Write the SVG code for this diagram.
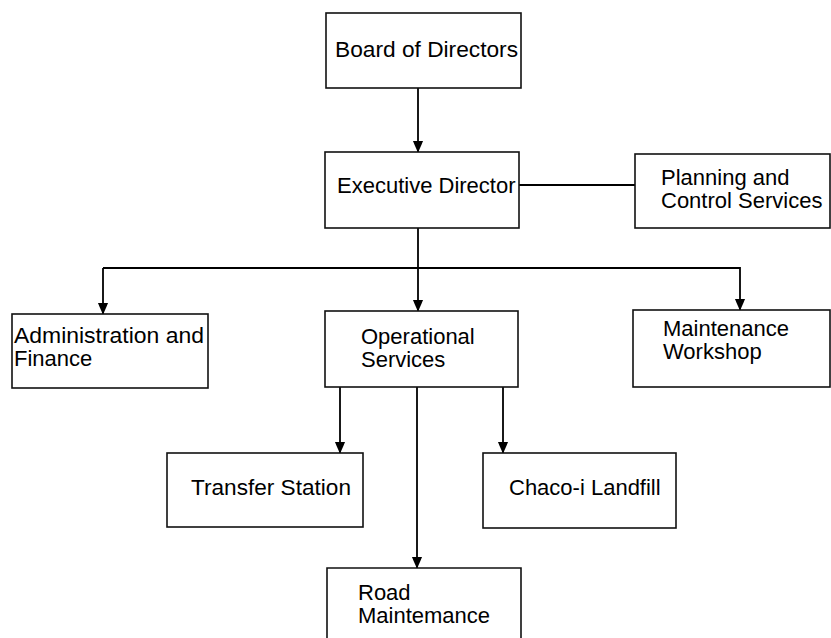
<svg xmlns="http://www.w3.org/2000/svg" width="831" height="638" viewBox="0 0 831 638">
<defs>
<style>
.box{fill:#fff;stroke:#111;stroke-width:1.6}
.t{font-family:"Liberation Sans",Arial,sans-serif;font-size:22px;fill:#000}
.c{fill:none;stroke:#000;stroke-width:1.8}
</style>
<marker id="arr" markerWidth="12" markerHeight="14" refX="13" refY="6" orient="auto" markerUnits="userSpaceOnUse" viewBox="0 0 14 12">
<path d="M0,0 L14,6 L0,12 Z" fill="#000"/>
</marker>
</defs>
<rect width="831" height="638" fill="#fff"/>
<g id="connectors">
<line class="c" x1="418" y1="88" x2="418" y2="152" marker-end="url(#arr)"/>
<line class="c" x1="519" y1="185" x2="635" y2="185"/>
<line class="c" x1="418" y1="228" x2="418" y2="311" marker-end="url(#arr)"/>
<polyline class="c" points="103,268 740,268 740,310" marker-end="url(#arr)"/>
<line class="c" x1="103" y1="268" x2="103" y2="314" marker-end="url(#arr)"/>
<line class="c" x1="340" y1="387" x2="340" y2="453" marker-end="url(#arr)"/>
<line class="c" x1="417" y1="387" x2="417" y2="568" marker-end="url(#arr)"/>
<line class="c" x1="503" y1="387" x2="503" y2="453" marker-end="url(#arr)"/>
</g>
<g id="board">
<rect class="box" x="326" y="13" width="195" height="75"/>
<text class="t" x="335" y="57" textLength="183" lengthAdjust="spacingAndGlyphs">Board of Directors</text>
</g>
<g id="executive">
<rect class="box" x="325" y="152" width="194" height="76"/>
<text class="t" x="337" y="193">Executive Director</text>
</g>
<g id="planning">
<rect class="box" x="635" y="154" width="195" height="74"/>
<text class="t" x="661" y="185">Planning and</text>
<text class="t" x="661" y="208">Control Services</text>
</g>
<g id="admin">
<rect class="box" x="12" y="314" width="196" height="74"/>
<text class="t" x="14" y="343" textLength="190" lengthAdjust="spacingAndGlyphs">Administration and</text>
<text class="t" x="14" y="366">Finance</text>
</g>
<g id="operational">
<rect class="box" x="325" y="311" width="193" height="76"/>
<text class="t" x="361" y="344">Operational</text>
<text class="t" x="361" y="367">Services</text>
</g>
<g id="maintenance">
<rect class="box" x="633" y="310" width="197" height="77"/>
<text class="t" x="663" y="336">Maintenance</text>
<text class="t" x="663" y="359">Workshop</text>
</g>
<g id="transfer">
<rect class="box" x="167" y="453" width="196" height="74"/>
<text class="t" x="191" y="495" textLength="160" lengthAdjust="spacingAndGlyphs">Transfer Station</text>
</g>
<g id="chaco">
<rect class="box" x="483" y="453" width="193" height="75"/>
<text class="t" x="509" y="495">Chaco-i Landfill</text>
</g>
<g id="road">
<path class="box" d="M327,645 L327,568 L521,568 L521,645"/>
<text class="t" x="358" y="600">Road</text>
<text class="t" x="358" y="623">Maintemance</text>
</g>
</svg>
